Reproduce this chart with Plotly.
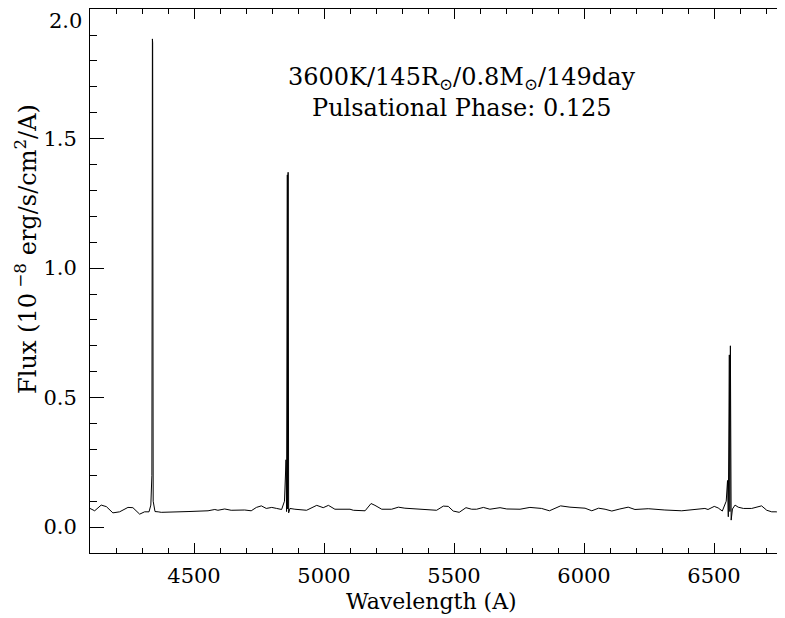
import plotly.graph_objects as go

wavelength = [4100, 4118, 4143, 4163, 4188, 4214, 4246, 4265, 4291, 4310, 4327, 4334, 4338, 4340, 4341, 4343, 4346, 4350,
              4362, 4374, 4477, 4554, 4580, 4592, 4618, 4643, 4695, 4720, 4740, 4759, 4778, 4799, 4818, 4837,
              4848, 4854, 4856, 4859, 4860, 4862, 4864, 4869, 4888, 4933, 4972, 4997, 5017, 5042, 5100, 5113,
              5158, 5181, 5196, 5222, 5260, 5286, 5311, 5376, 5433, 5459, 5478, 5497, 5520, 5546, 5568, 5587,
              5613, 5638, 5677, 5703, 5754, 5792, 5818, 5837, 5867, 5888, 5910, 5946, 6004, 6030, 6056, 6081,
              6107, 6138, 6170, 6196, 6247, 6311, 6376, 6465, 6477, 6501, 6516, 6532, 6547, 6552, 6555, 6559,
              6561, 6563, 6566, 6571, 6581, 6593, 6613, 6645, 6683, 6703, 6722, 6741, 6760, 6775, 6790, 6800]
flux = [0.072, 0.063, 0.085, 0.079, 0.055, 0.059, 0.076, 0.075, 0.050, 0.059, 0.059, 0.085, 0.20, 1.885, 1.87, 0.10, 0.075, 0.060,
        0.059, 0.057, 0.060, 0.063, 0.068, 0.065, 0.070, 0.065, 0.066, 0.063, 0.076, 0.082, 0.072, 0.076, 0.072, 0.068,
        0.10, 0.26, 0.06, 1.36, 0.07, 1.37, 0.055, 0.072, 0.069, 0.065, 0.084, 0.075, 0.084, 0.069, 0.069, 0.065,
        0.063, 0.091, 0.084, 0.069, 0.069, 0.077, 0.073, 0.069, 0.065, 0.081, 0.080, 0.062, 0.057, 0.075, 0.069, 0.069,
        0.076, 0.069, 0.075, 0.070, 0.069, 0.076, 0.072, 0.072, 0.063, 0.072, 0.082, 0.077, 0.073, 0.063, 0.073, 0.069,
        0.062, 0.070, 0.077, 0.068, 0.071, 0.066, 0.063, 0.072, 0.068, 0.080, 0.074, 0.062, 0.10, 0.18, 0.04, 0.665,
        0.06, 0.70, 0.027, 0.07, 0.085, 0.077, 0.072, 0.072, 0.082, 0.065, 0.059, 0.059, 0.075, 0.082, 0.080, 0.075]

x_tickvals = [4500, 5000, 5500, 6000, 6500]
y_tickvals = [0.0, 0.5, 1.0, 1.5, 2.0]
y_ticktext = ["0.0", "0.5", "1.0", "1.5", ""]
y_top_label = "2.0"
title_line1 = "3600K/145R<sub>⊙</sub>/0.8M<sub>⊙</sub>/149day"
title_line2 = "Pulsational Phase: 0.125"
x_title = "Wavelength (A)"
y_title = "Flux (10<sup> \u22128</sup> erg/s/cm<sup>2</sup>/A)"

FONT = "DejaVu Serif"

fig = go.Figure()
fig.add_trace(go.Scatter(x=wavelength, y=flux, mode="lines",
                         line=dict(color="black", width=1), showlegend=False, cliponaxis=True))

# the page body adds an 8 px offset; margins compensate so the plot box lands at x 90..792, y 9..553
fig.update_layout(
    width=785, height=618,
    margin=dict(l=82, r=1, t=1, b=73, autoexpand=False),
    paper_bgcolor="white", plot_bgcolor="white",
    font=dict(family=FONT, size=21, color="black"),
    xaxis=dict(range=[4100, 6800], tickvals=x_tickvals, ticks="inside", ticklen=10, tickwidth=1,
               tickcolor="black", showline=True, linecolor="black", linewidth=1, mirror="ticks",
               showgrid=False, zeroline=False, ticklabelstandoff=4, automargin=False,
               ticklabeloverflow="allow",
               minor=dict(ticks="inside", ticklen=5, dtick=100, tick0=4100, tickcolor="black", showgrid=False)),
    yaxis=dict(range=[-0.1, 2.0005], tickvals=y_tickvals, ticktext=y_ticktext, ticks="inside", ticklen=14,
               tickwidth=1, tickcolor="black", showline=True, linecolor="black", linewidth=1, mirror="ticks",
               showgrid=False, zeroline=False, ticklabelstandoff=8, automargin=False,
               ticklabeloverflow="allow",
               minor=dict(ticks="inside", ticklen=7, dtick=0.1, tick0=0, tickcolor="black", showgrid=False)),
    annotations=[
        dict(text=y_top_label, xref="paper", yref="paper", x=0, y=1, xanchor="right", yanchor="top",
             xshift=-7, yshift=1, showarrow=False, borderpad=0, font=dict(size=21)),
        dict(text=title_line1, xref="paper", yref="paper", x=0.530, y=0.873, showarrow=False,
             xanchor="center", yanchor="middle", font=dict(size=24)),
        dict(text=title_line2, xref="paper", yref="paper", x=0.530, y=0.818, showarrow=False,
             xanchor="center", yanchor="middle", font=dict(size=24)),
        dict(text=x_title, xref="paper", yref="paper", x=0.486, y=-0.090, showarrow=False,
             xanchor="center", yanchor="middle", font=dict(size=22)),
        dict(text=y_title, xref="paper", yref="paper", x=-0.0912, y=0.559, showarrow=False,
             xanchor="center", yanchor="middle", textangle=-90, font=dict(size=24)),
    ],
)

fig.write_html("out.html")
